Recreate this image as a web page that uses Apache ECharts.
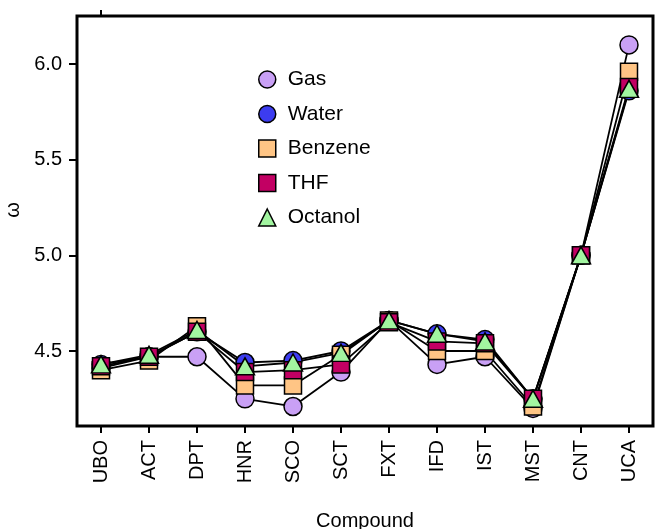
<!DOCTYPE html>
<html>
<head>
<meta charset="utf-8">
<script src="https://cdn.jsdelivr.net/npm/echarts@6/dist/echarts.min.js"></script>
<style>html,body{margin:0;padding:0;background:#fff}#c{width:655px;height:529px}</style>
</head>
<body>
<div id="c"></div>
<script>
const categories = ['UBO','ACT','DPT','HNR','SCO','SCT','FXT','IFD','IST','MST','CNT','UCA'];
const gas     = [4.41, 4.47, 4.47, 4.25, 4.21, 4.39, 4.66, 4.43, 4.47, 4.20, 5.00, 6.10];
const water   = [4.43, 4.47, 4.60, 4.44, 4.45, 4.50, 4.66, 4.59, 4.56, 4.25, 5.00, 5.86];
const benzene = [4.40, 4.45, 4.63, 4.32, 4.32, 4.48, 4.66, 4.50, 4.50, 4.21, 5.00, 5.96];
const thf     = [4.42, 4.47, 4.60, 4.39, 4.40, 4.43, 4.65, 4.55, 4.54, 4.25, 5.00, 5.88];
const octanol = [4.43, 4.48, 4.61, 4.42, 4.44, 4.49, 4.66, 4.59, 4.55, 4.25, 5.00, 5.87];
const yTicks = [4.5, 5.0, 5.5, 6.0];
const seriesNames = ['Gas','Water','Benzene','THF','Octanol'];

const FONT = '"Liberation Sans", Arial, sans-serif';
const defs = [
  {name:'Gas', data:gas, symbol:'circle', size:18, color:'#C9A0F5'},
  {name:'Water', data:water, symbol:'circle', size:18, color:'#3C3CF0'},
  {name:'Benzene', data:benzene, symbol:'rect', size:17, color:'#FFC585'},
  {name:'THF', data:thf, symbol:'rect', size:17, color:'#C20063'},
  {name:'Octanol', data:octanol, symbol:'triangle', size:[19,17], color:'#A2F5A0'}
];
const series = [];
defs.forEach(d => {
  series.push({
    name: d.name + '-line', type:'line', data:d.data, showSymbol:false, silent:true,
    lineStyle:{color:'#000', width:1.8}, z:2, animation:false
  });
});
defs.forEach((d,i) => {
  series.push({
    name: d.name, type:'scatter', data:d.data, symbol:d.symbol, symbolSize:d.size,
    itemStyle:{color:d.color, borderColor:'#000', borderWidth:1.5, opacity:1},
    z:3+i, animation:false
  });
});

const chart = echarts.init(document.getElementById('c'));
chart.setOption({
  animation:false,
  grid:{left:77, top:16, width:576, height:410, show:true, borderColor:'#000', borderWidth:3,
        backgroundColor:'transparent', containLabel:false, outerBoundsMode:'none'},
  legend:{
    data: seriesNames.map(n => ({name:n, itemStyle:{borderColor:'#000', borderWidth:1.5}})),
    orient:'vertical', left:253, top:64, itemWidth:17, itemHeight:17, itemGap:13.5,
    textStyle:{fontFamily:FONT, fontSize:21, color:'#000', padding:[0,0,0,7]}
  },
  xAxis:[{
    type:'category', data:categories, boundaryGap:true, position:'bottom',
    axisLine:{show:false},
    axisTick:{show:true, alignWithLabel:true, length:7, lineStyle:{color:'#000', width:2}},
    axisLabel:{rotate:90, fontFamily:FONT, fontSize:20, color:'#000', margin:14, interval:0},
    name:'Compound', nameLocation:'middle', nameGap:85,
    nameTextStyle:{fontFamily:FONT, fontSize:20, color:'#000'}
  },{
    type:'category', data:categories, boundaryGap:true, position:'top',
    axisLine:{show:false},
    axisTick:{show:true, alignWithLabel:true, length:6, interval:(i)=>i===0, lineStyle:{color:'#000', width:2}},
    axisLabel:{show:false}
  }],
  yAxis:{
    type:'value', min:4.108, max:6.251,
    axisLine:{show:false}, splitLine:{show:false},
    axisTick:{show:true, length:8, customValues:yTicks, lineStyle:{color:'#000', width:2}},
    axisLabel:{customValues:yTicks, formatter:v => v.toFixed(1), fontFamily:FONT, fontSize:20, color:'#000', margin:15},
    name:'ω', nameLocation:'middle', nameGap:51, nameRotate:90,
    nameTextStyle:{fontFamily:FONT, fontSize:20, color:'#000', padding:[0,0,0,22]}
  },
  series: series
});
</script>
</body>
</html>
